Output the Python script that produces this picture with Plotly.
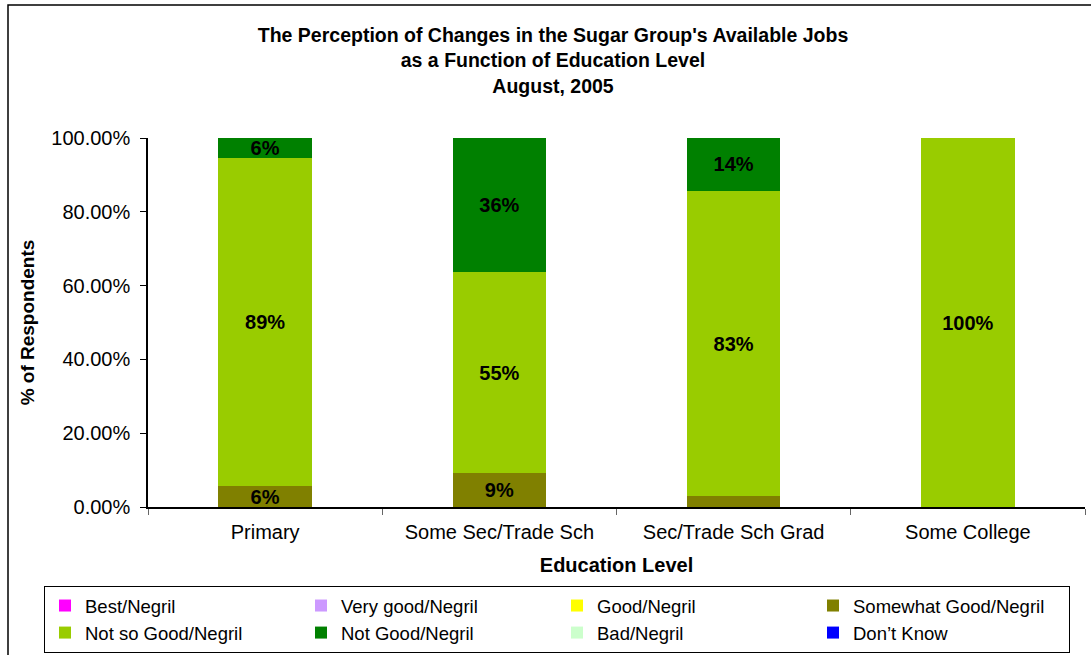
import plotly.graph_objects as go

categories = ["Primary", "Some Sec/Trade Sch", "Sec/Trade Sch Grad", "Some College"]
series_names = ["Best/Negril", "Very good/Negril", "Good/Negril", "Somewhat Good/Negril",
                "Not so Good/Negril", "Not Good/Negril", "Bad/Negril", "Don\u2019t Know"]
best = [0, 0, 0, 0]
very_good = [0, 0, 0, 0]
good = [0, 0, 0, 0]
somewhat_good = [5.56, 9.09, 2.86, 0]
not_so_good = [88.89, 54.55, 82.86, 100]
not_good = [5.56, 36.36, 14.29, 0]
bad = [0, 0, 0, 0]
dont_know = [0, 0, 0, 0]
colors = ["#FF00FF", "#CC99FF", "#FFFF00", "#808000", "#99CC00", "#008000", "#CCFFCC", "#0000FF"]
y_ticks = [0, 20, 40, 60, 80, 100]
y_tick_labels = [f"{v:.2f}%" for v in y_ticks]

all_series = [best, very_good, good, somewhat_good, not_so_good, not_good, bad, dont_know]

FONT = "Arial, Liberation Sans, sans-serif"
W, H = 1091, 655
L, R, T, B = 148, 6, 138, 148

fig = go.Figure()
for name, vals, col in zip(series_names, all_series, colors):
    # labels are omitted on slivers too thin to hold them (as in the original)
    labels = [f"<b>{v:.0f}%</b>" if v >= 4 else "" for v in vals]
    fig.add_trace(go.Bar(
        x=categories, y=vals, name=name, marker=dict(color=col, line=dict(width=0)),
        text=labels, texttemplate="%{text}",
        textposition="inside", insidetextanchor="middle", textangle=0,
        insidetextfont=dict(family=FONT, size=20, color="black"),
        hoverinfo="x+y+name",
    ))

pw, ph = W - L - R, H - T - B
def px(p):
    return (p - L) / pw
def py(q):
    return (H - B - q) / ph

fig.update_layout(
    template="none",
    barmode="stack", bargap=0.6,
    width=W, height=H,
    margin=dict(l=L, r=R, t=T, b=B, autoexpand=False),
    paper_bgcolor="white", plot_bgcolor="white",
    font=dict(family=FONT, size=20, color="black"),
    uniformtext=dict(minsize=20, mode="show"),
    title=dict(
        text="<b>The Perception of Changes in the Sugar Group's Available Jobs<br>as a Function of Education Level<br>August, 2005</b>",
        x=553 / W, xanchor="center", y=1 - 42 / H, yanchor="top", yref="container", xref="container",
        font=dict(family=FONT, size=19.5, color="black"),
    ),
    xaxis=dict(
        automargin=False,
        showline=True, linecolor="black", linewidth=1.5,
        ticks="outside", tickson="boundaries", ticklen=6, tickcolor="#666", tickwidth=1,
        tickfont=dict(size=20), showgrid=False, ticklabelstandoff=6,
        title=dict(text="<b>Education Level</b>", font=dict(size=20), standoff=16),
    ),
    yaxis=dict(
        automargin=False,
        range=[0, 100], tickvals=y_ticks, ticktext=y_tick_labels,
        showline=True, linecolor="black", linewidth=1.5,
        ticks="outside", ticklen=6, tickcolor="black", tickwidth=1,
        showgrid=False, zeroline=False,
        tickfont=dict(size=20), ticklabelstandoff=6,
        title=dict(text="<b>% of Respondents</b>", font=dict(size=19), standoff=12),
    ),
    legend=dict(
        orientation="h", xref="paper", yref="paper",
        x=px(44), y=py(586), xanchor="left", yanchor="top",
        entrywidth=211, entrywidthmode="pixels",
        bordercolor="black", borderwidth=1, bgcolor="white",
        font=dict(size=18.5), traceorder="normal",
    ),
    showlegend=True,
)

fig.add_shape(type="rect", xref="paper", yref="paper",
              x0=px(8), x1=px(W + 5), y0=py(H + 5), y1=py(5),
              line=dict(color="black", width=1.5), fillcolor="rgba(0,0,0,0)", layer="below")

fig.write_html("out.html",
               config={"displayModeBar": False},
               post_script="document.body.style.margin='0';document.body.style.overflow='hidden';")
